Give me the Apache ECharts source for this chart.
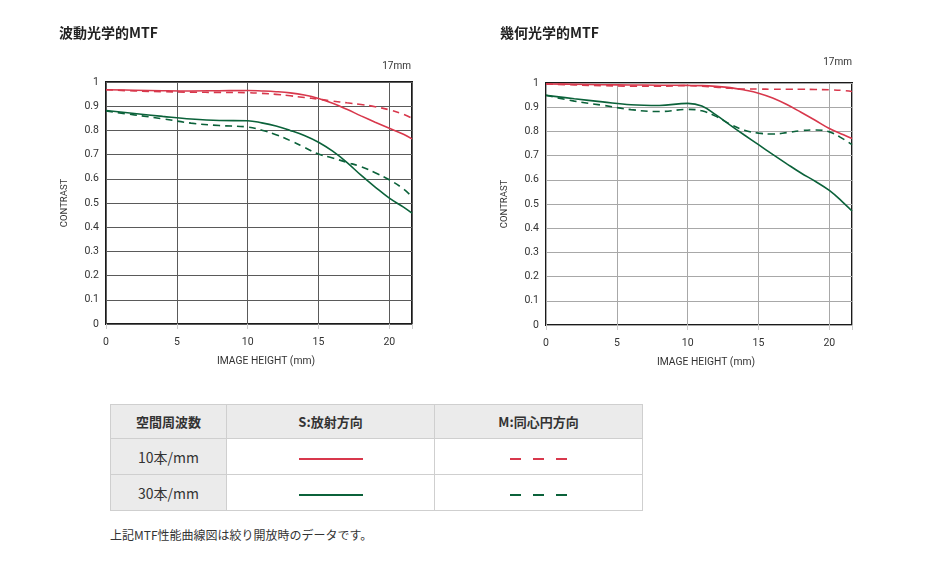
<!DOCTYPE html>
<html><head><meta charset="utf-8">
<script src="https://cdn.jsdelivr.net/npm/echarts@6/dist/echarts.min.js"></script>
<style>
html,body{margin:0;padding:0;background:#fff;}
#wrap{position:relative;width:928px;height:574px;overflow:hidden;}
#chart{position:absolute;left:0;top:0;width:928px;height:380px;}
table{position:absolute;left:110px;top:404px;border-collapse:collapse;font-family:"Noto Sans CJK JP","Noto Sans",sans-serif;color:#333;}
td,th{border:1px solid #cfcfcf;text-align:center;padding:0;}
th{background:#ebebeb;font-weight:bold;font-size:13px;height:33px;}
td{height:35px;font-size:14px;}
td.lab{background:#ebebeb;}
.sol{display:inline-block;width:64px;height:2px;vertical-align:middle;}
.das{display:inline-block;width:57px;height:2px;vertical-align:middle;}
#note{position:absolute;left:110px;top:526px;font-size:12px;color:#333;font-family:"Noto Sans CJK JP",sans-serif;}
</style></head>
<body><div id="wrap"><div id="chart"></div>
<table id="tbl"></table>
<div id="note"></div></div>
<script>
// image height (mm)
const X = [0,2,4,6,8,10,11,12,13,14,15,16,17,18,19,20,21,21.6];
// 波動光学的MTF
const L_S10 = [0.968,0.966,0.964,0.963,0.964,0.965,0.963,0.960,0.955,0.946,0.932,0.912,0.887,0.860,0.834,0.809,0.784,0.765];
const L_M10 = [0.968,0.963,0.960,0.958,0.957,0.956,0.953,0.949,0.943,0.936,0.929,0.921,0.914,0.907,0.898,0.885,0.866,0.850];
const L_S30 = [0.882,0.870,0.858,0.847,0.841,0.840,0.831,0.818,0.800,0.779,0.751,0.714,0.668,0.615,0.566,0.520,0.483,0.458];
const L_M30 = [0.880,0.864,0.848,0.830,0.820,0.814,0.801,0.782,0.758,0.730,0.702,0.686,0.668,0.650,0.625,0.596,0.558,0.526];
// 幾何光学的MTF
const R_S10 = [0.996,0.995,0.993,0.992,0.991,0.990,0.989,0.986,0.981,0.971,0.958,0.938,0.911,0.879,0.846,0.812,0.786,0.771];
const R_M10 = [0.996,0.992,0.989,0.987,0.987,0.989,0.987,0.983,0.978,0.975,0.975,0.974,0.974,0.974,0.973,0.972,0.969,0.965];
const R_S30 = [0.949,0.935,0.922,0.910,0.907,0.916,0.905,0.868,0.826,0.785,0.745,0.705,0.666,0.628,0.594,0.556,0.505,0.471];
const R_M30 = [0.949,0.925,0.908,0.890,0.882,0.891,0.885,0.862,0.830,0.805,0.793,0.789,0.795,0.803,0.806,0.798,0.768,0.745];

const titles = ['波動光学的MTF','幾何光学的MTF'];
const focal = '17mm';
const freqLabels = ['10本/mm','30本/mm'];
const headLabels = ['空間周波数','S:放射方向','M:同心円方向'];
const noteText = '上記MTF性能曲線図は絞り開放時のデータです。';

const RED = '#d8384c', GREEN = '#0b623a';
const font = 'Roboto, "Liberation Sans", sans-serif';

function pairs(ys){ return X.map((x,i)=>[x, ys[i]]); }

const grids = [
  {left:106, top:82, width:306, height:242},
  {left:546, top:83, width:306, height:242}
];
const gridColors = ['#5a5a5a','#a8a8a8'];

const titleStyle = {fontSize:14,fontWeight:'bold',color:'#222',fontFamily:'"Noto Sans CJK JP",sans-serif'};
const focalStyle = {fontSize:10,fontWeight:'normal',color:'#333',fontFamily:font};

const option = {
  animation:false,
  title: [
    {text:titles[0], left:59, top:26, padding:0, textStyle:titleStyle},
    {text:titles[1], left:500, top:26, padding:0, textStyle:titleStyle},
    {text:focal, right:517, top:61, padding:0, textStyle:focalStyle},
    {text:focal, right:76, top:57, padding:0, textStyle:focalStyle}
  ],
  grid: grids.map(g=>Object.assign({show:true,borderColor:'#1a1a1a',borderWidth:2,backgroundColor:'#fff'},g)),
  xAxis: [0,1].map(i=>({
    type:'value', gridIndex:i, min:0, max:21.6, interval:5,
    name:'IMAGE HEIGHT (mm)', nameLocation:'middle', nameGap:32,
    nameTextStyle:{fontSize:10.3,color:'#333',fontFamily:font,padding:[0,0,0,14]},
    axisLine:{show:false},
    axisTick:{show:true,length:5,lineStyle:{color:'#ccc'}},
    axisLabel:{fontSize:10.5,color:'#333',fontFamily:font,margin:13,
      formatter:v=> (Math.abs(v/5-Math.round(v/5))<1e-6)? String(v):''},
    splitLine:{show:true,lineStyle:{color:gridColors[i],width:1}}
  })),
  yAxis: [0,1].map(i=>({
    type:'value', gridIndex:i, min:0, max:1, interval:0.1,
    name:'CONTRAST', nameLocation:'middle', nameGap:36, nameRotate:90,
    nameTextStyle:{fontSize:9.5,color:'#333',fontFamily:font},
    axisLine:{show:false}, axisTick:{show:false},
    axisLabel:{fontSize:10.5,color:'#333',fontFamily:font,margin:7,
      formatter:v=> v===0?'0':(Math.abs(v-1)<1e-9?'1':v.toFixed(1))},
    splitLine:{show:true,lineStyle:{color:gridColors[i],width:1}}
  })),
  series: [
    [L_S10,0,RED,'solid'],[L_M10,0,RED,[7,5]],[L_S30,0,GREEN,'solid'],[L_M30,0,GREEN,[7,5]],
    [R_S10,1,RED,'solid'],[R_M10,1,RED,[7,5]],[R_S30,1,GREEN,'solid'],[R_M30,1,GREEN,[7,5]]
  ].map(([d,g,c,t])=>({
    type:'line', xAxisIndex:g, yAxisIndex:g, data:pairs(d), smooth:0.4,
    showSymbol:false, symbol:'none', lineStyle:{color:c,width:1.6,type:t}, z:3
  }))
};
const chart = echarts.init(document.getElementById('chart'), null, {renderer:'canvas'});
chart.setOption(option);

// table
const tbl = document.getElementById('tbl');
const widths = [116,208,208];
let html = '<tr>' + headLabels.map((h,i)=>`<th style="width:${widths[i]-1}px">${h}</th>`).join('') + '</tr>';
[RED,GREEN].forEach((c,i)=>{
  html += `<tr><td class="lab">${freqLabels[i]}</td>`+
    `<td><span class="sol" style="background:${c}"></span></td>`+
    `<td><span class="das" style="background:repeating-linear-gradient(to right, ${c} 0 11px, transparent 11px 23px)"></span></td></tr>`;
});
tbl.innerHTML = html;
document.getElementById('note').textContent = noteText;
</script></body></html>
